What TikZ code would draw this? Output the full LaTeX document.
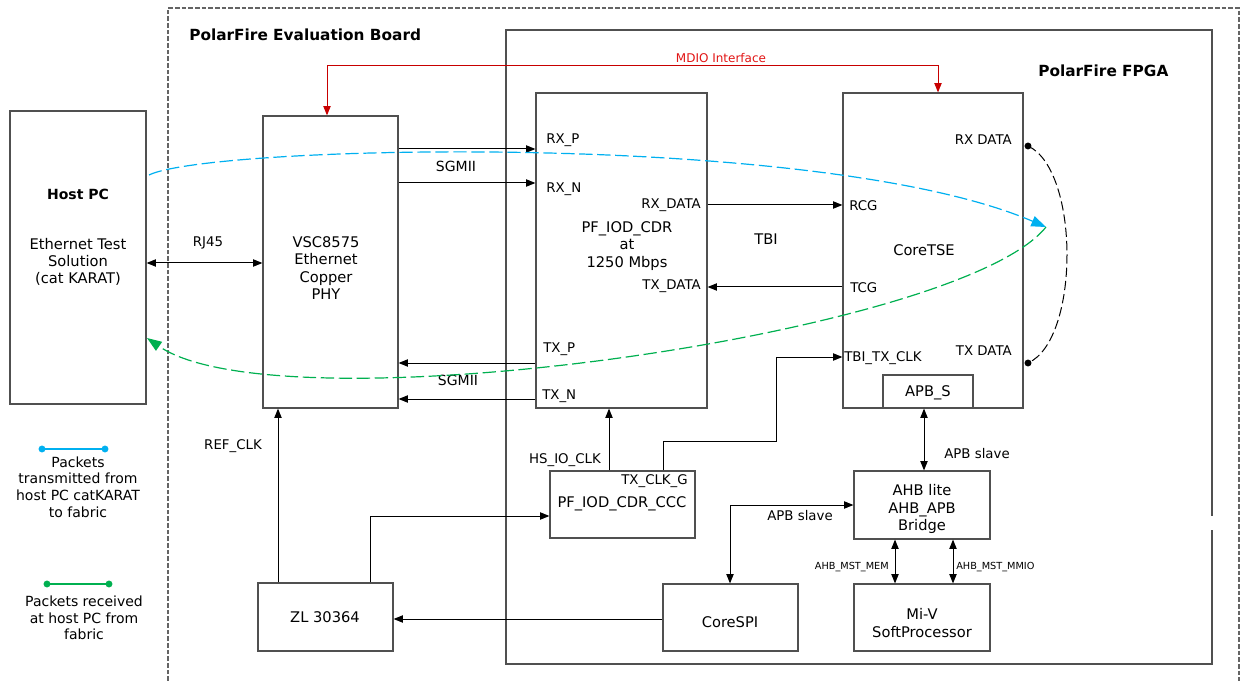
\documentclass[tikz,border=0pt]{standalone}
\usepackage{fontspec}
\setmainfont{DejaVu Sans}
\usetikzlibrary{arrows.meta,fit}
\definecolor{boxgray}{RGB}{80,80,80}
\definecolor{dashgray}{RGB}{100,100,100}
\definecolor{pktblue}{RGB}{0,176,240}
\definecolor{pktgreen}{RGB}{0,176,80}
\definecolor{mdred}{RGB}{200,0,0}
\definecolor{mdtext}{RGB}{225,20,20}
\begin{document}
\begin{tikzpicture}[x=0.75pt,y=-0.75pt,
  box/.style={draw=boxgray,line width=0.9pt,inner sep=0pt},
  txt/.style={inner sep=0pt,align=center,font=\fontsize{11}{13}\selectfont},
  pin/.style={inner sep=0pt,font=\fontsize{10}{12}\selectfont},
  small/.style={inner sep=0pt,font=\fontsize{7.3}{9}\selectfont},
  title/.style={inner sep=0pt,font=\fontsize{11.5}{14}\selectfont\bfseries},
  leg/.style={inner sep=0pt,align=center,font=\fontsize{10.5}{12.5}\selectfont},
  arr/.style={draw=black,line width=0.75pt,-{Triangle[length=7pt,width=5.5pt]}},
  darr/.style={draw=black,line width=0.75pt,{Triangle[length=7pt,width=5.5pt]}-{Triangle[length=7pt,width=5.5pt]}},
  mdio/.style={draw=mdred,line width=0.75pt,{Triangle[length=7pt,width=5.5pt]}-{Triangle[length=7pt,width=5.5pt]}},
  pkt/.style={line width=0.9pt,dash pattern=on 10pt off 3.5pt,-{Triangle[length=11pt,width=8pt]}},
  loopback/.style={draw=black,line width=0.75pt,dash pattern=on 7pt off 3pt},
  frame/.style={draw=boxgray,line width=0.9pt},
  board/.style={draw=dashgray,line width=0.9pt,dash pattern=on 3.5pt off 1.5pt}
]
\useasboundingbox (0,0) rectangle (1240,681);

% containers
\draw[board] (168,681) -- (168,8) -- (1239,8) -- (1239,681);
\draw[frame] (1212,530) -- (1212,664) -- (506,664) -- (506,30) -- (1212,30) -- (1212,516);
\node[title,anchor=west] (boardt) at (189,35) {PolarFire Evaluation Board};
\node[title,anchor=west] (fpgat) at (1038,71) {PolarFire FPGA};

% boxes
\node[box,fit={(10,111) (146,404)}] (host) {};
\node[box,fit={(263,116) (398,408)}] (vsc) {};
\node[box,fit={(536,93) (707,408)}] (pf) {};
\node[box,fit={(843,93) (1023,408)}] (tse) {};
\node[box,fit={(883,375) (973,408)}] (apbs) {};
\node[box,fit={(550,471) (695,538)}] (ccc) {};
\node[box,fit={(258,583) (393,651)}] (zl) {};
\node[box,fit={(663,584) (798,651)}] (spi) {};
\node[box,fit={(854,471) (990,539)}] (bridge) {};
\node[box,fit={(854,584) (990,651)}] (miv) {};

% box texts
\node[txt,font=\fontsize{10.5}{13}\selectfont\bfseries] (hostt) at (78,194) {Host PC};
\node[txt] (hostd) at (78,262) {Ethernet Test\\Solution\\(cat KARAT)};
\node[txt] (vsct) at (326,268) {VSC8575\\Ethernet\\Copper\\PHY};
\node[txt] (pft) at (627,246) {PF\_IOD\_CDR\\at\\1250 Mbps};
\node[txt] (tset) at (924,250) {CoreTSE};
\node[txt] (apbst) at (928,393) {APB\_S};
\node[txt] (ccct) at (622,504) {PF\_IOD\_CDR\_CCC};
\node[txt] (zlt) at (325,617) {ZL 30364};
\node[txt] (spit) at (730,622) {CoreSPI};
\node[txt] (bridget) at (922,509) {AHB lite\\AHB\_APB\\Bridge};
\node[txt] (mivt) at (922,623) {Mi-V\\SoftProcessor};

% pin labels
\node[pin,anchor=west] (lrxp) at (546,140) {RX\_P};
\node[pin,anchor=west] (lrxn) at (546,189) {RX\_N};
\node[pin,anchor=east] (lrxd) at (701,205) {RX\_DATA};
\node[pin,anchor=east] (ltxd) at (701,286) {TX\_DATA};
\node[pin,anchor=west] (ltxp) at (543,349) {TX\_P};
\node[pin,anchor=west] (ltxn) at (542,396) {TX\_N};
\node[pin,anchor=east] (lrxdata) at (1012,140) {RX DATA};
\node[pin,anchor=west] (lrcg) at (849,206) {RCG};
\node[pin,anchor=west] (ltcg) at (850,288) {TCG};
\node[pin,anchor=west] (ltbiclk) at (844,358) {TBI\_TX\_CLK};
\node[pin,anchor=east] (ltxdata) at (1012,351) {TX DATA};
\node[pin,anchor=east] (ltxclkg) at (688,481) {TX\_CLK\_G};

% connector labels
\node[pin] (lrj) at (208,243) {RJ45};
\node[pin,font=\fontsize{10.5}{12}\selectfont] (lsg1) at (456,166) {SGMII};
\node[pin,font=\fontsize{10.5}{12}\selectfont] (lsg2) at (458,380) {SGMII};
\node[pin,font=\fontsize{11}{13}\selectfont] (ltbi) at (766,239) {TBI};
\node[pin,font=\fontsize{9}{11}\selectfont,text=mdtext] (lmdio) at (721,58) {MDIO Interface};
\node[pin] (lref) at (233,446) {REF\_CLK};
\node[pin] (lhs) at (565,460) {HS\_IO\_CLK};
\node[pin] (lapb1) at (800,516) {APB slave};
\node[pin,anchor=west] (lapb2) at (944,454) {APB slave};
\node[small,anchor=east] (lmem) at (889,567) {AHB\_MST\_MEM};
\node[small,anchor=west] (lmmio) at (956,567) {AHB\_MST\_MMIO};

% helper coordinates
\coordinate (yRJ) at (0,263);
\coordinate (yRXP) at (0,149);
\coordinate (yRXN) at (0,183);
\coordinate (yTXP) at (0,363);
\coordinate (yTXN) at (0,399);
\coordinate (yRXD) at (0,205);
\coordinate (yTXD) at (0,287);
\coordinate (mdL) at (327,66);
\coordinate (mdR) at (938,66);
\coordinate (xREF) at (278,0);
\coordinate (zc) at (370,516);
\coordinate (xHS) at (609,0);
\coordinate (t1) at (663,441);
\coordinate (t2) at (776,441);
\coordinate (t3) at (776,357);
\coordinate (yS) at (0,619);
\coordinate (a1) at (730,505);
\coordinate (xAPB) at (924,0);
\coordinate (xMEM) at (895,0);
\coordinate (xMMIO) at (953,0);

% connectors
\draw[darr] (host.east |- yRJ) -- (vsc.west |- yRJ);
\draw[arr] (vsc.east |- yRXP) -- (pf.west |- yRXP);
\draw[arr] (vsc.east |- yRXN) -- (pf.west |- yRXN);
\draw[arr] (pf.west |- yTXP) -- (vsc.east |- yTXP);
\draw[arr] (pf.west |- yTXN) -- (vsc.east |- yTXN);
\draw[arr] (pf.east |- yRXD) -- (tse.west |- yRXD);
\draw[arr] (tse.west |- yTXD) -- (pf.east |- yTXD);
\draw[mdio] (vsc.north -| mdL) -- (mdL) -- (mdR) -- (tse.north -| mdR);
\draw[arr] (zl.north -| xREF) -- (vsc.south -| xREF);
\draw[arr] (zl.north -| zc) -- (zc) -- (ccc.west |- zc);
\draw[arr] (ccc.north -| xHS) -- (pf.south -| xHS);
\draw[arr] (ccc.north -| t1) -- (t1) -- (t2) -- (t3) -- (tse.west |- t3);
\draw[arr] (spi.west |- yS) -- (zl.east |- yS);
\draw[darr] (spi.north -| a1) -- (a1) -- (bridge.west |- a1);
\draw[darr] (apbs.south -| xAPB) -- (bridge.north -| xAPB);
\draw[darr] (bridge.south -| xMEM) -- (miv.north -| xMEM);
\draw[darr] (bridge.south -| xMMIO) -- (miv.north -| xMMIO);

% loopback
\coordinate (rxdot) at (1028,146);
\coordinate (txdot) at (1028,363);
\draw[loopback] (rxdot) .. controls (1080,170) and (1080,340) .. (txdot);
\fill[black] (rxdot) circle (2.6pt) (txdot) circle (2.6pt);

% packet paths
\coordinate (bstart) at (149,175);
\coordinate (turn) at (1046,227);
\coordinate (gend) at (147,338);
\draw[pkt,draw=pktblue,fill=none,-{Triangle[length=11pt,width=8pt,fill=pktblue]}] (bstart) .. controls (210,145) and (820,130) .. (turn);
\draw[pkt,draw=pktgreen,-{Triangle[length=11pt,width=8pt,fill=pktgreen]}] (turn) .. controls (960,335) and (280,430) .. (gend);

% legend
\coordinate (lbA) at (42,449);
\coordinate (lbB) at (105,449);
\draw[pktblue,line width=0.9pt] (lbA) -- (lbB);
\fill[pktblue] (lbA) circle (2.6pt) (lbB) circle (2.6pt);
\node[leg] (legb) at (78,487) {Packets\\transmitted from\\host PC catKARAT\\to fabric};
\coordinate (lgA) at (47,584);
\coordinate (lgB) at (109,584);
\draw[pktgreen,line width=0.9pt] (lgA) -- (lgB);
\fill[pktgreen] (lgA) circle (2.6pt) (lgB) circle (2.6pt);
\node[leg] (legg) at (84,618) {Packets received\\at host PC from\\fabric};
\end{tikzpicture}
\end{document}
